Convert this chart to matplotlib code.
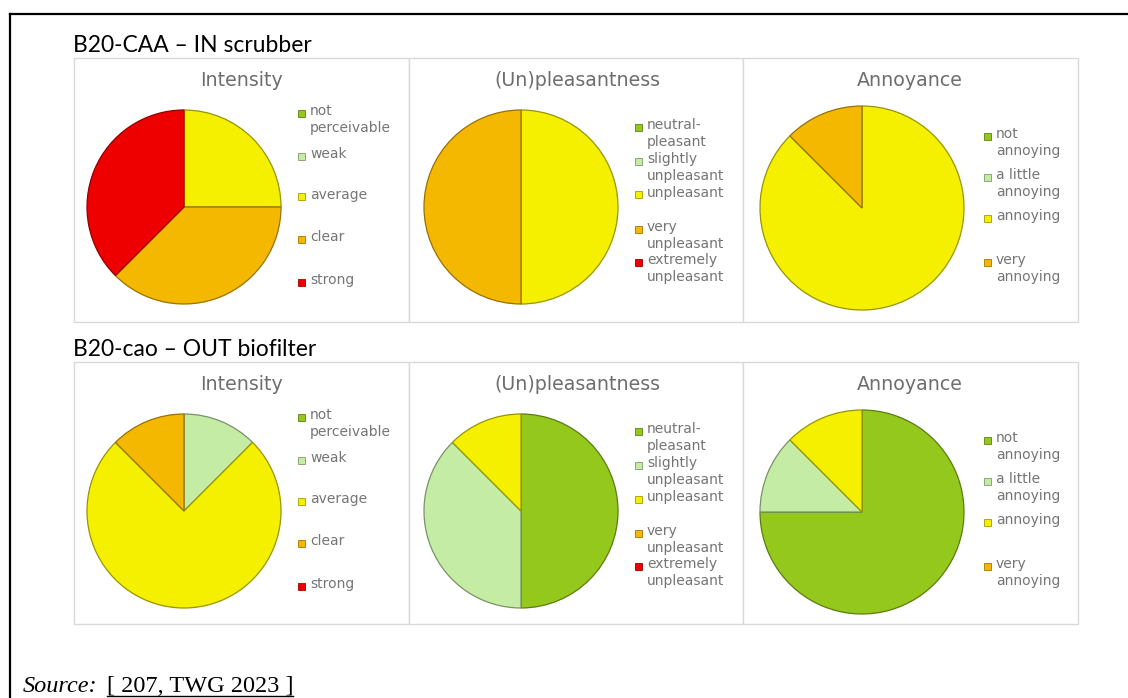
import matplotlib as mpl
mpl.use('Agg')
import matplotlib.pyplot as plt
from matplotlib.patches import Rectangle
from matplotlib.lines import Line2D
import matplotlib.colors as mcolors

W, H = 1128, 698

# data: panel counts (8 panel members), colours per category
intensity_labels = ["not\nperceivable", "weak", "average", "clear", "strong"]
pleasant_labels = ["neutral-\npleasant", "slightly\nunpleasant", "unpleasant",
                   "very\nunpleasant", "extremely\nunpleasant"]
annoy_labels = ["not\nannoying", "a little\nannoying", "annoying", "very\nannoying"]

in_intensity = [0, 0, 2, 3, 3]
in_pleasant = [0, 0, 4, 4, 0]
in_annoy = [0, 0, 7, 1]

out_intensity = [0, 1, 6, 1, 0]
out_pleasant = [4, 3, 1, 0, 0]
out_annoy = [6, 1, 1, 0]

section_titles = ["B20-CAA \u2013 IN scrubber", "B20-cao \u2013 OUT biofilter"]
chart_titles = ["Intensity", "(Un)pleasantness", "Annoyance"]

green = "#94c81c"
lightgreen = "#c4eca4"
yellow = "#f4f000"
orange = "#f5b800"
red = "#ee0000"
five_colors = [green, lightgreen, yellow, orange, red]
four_colors = [green, lightgreen, yellow, orange]

TXT = "#757575"


def fx(x):
    return x / W


def fy(y):
    return 1 - y / H


def darker(c, f=0.6):
    r, g, b = mcolors.to_rgb(c)
    return (r * f, g * f, b * f)


fig = plt.figure(figsize=(W / 100, H / 100), dpi=100)

# outer border (top and left)
fig.add_artist(Line2D([fx(10), fx(10)], [fy(14), fy(698)], color="black", lw=1.6))
fig.add_artist(Line2D([fx(10), fx(1128)], [fy(14), fy(14)], color="black", lw=1.6))


def pie_at(cx, cy, r, values, colors):
    pad = 3
    s = r + pad
    ax = fig.add_axes([fx(cx - s), fy(cy + s), 2 * s / W, 2 * s / H])
    # skip empty categories so they leave no hairline
    vals = [v for v in values if v > 0]
    cols = [c for v, c in zip(values, colors) if v > 0]
    wedges, _ = ax.pie(vals, colors=cols, startangle=90, counterclock=False,
                       radius=1.0)
    for w, c in zip(wedges, cols):
        w.set_edgecolor(darker(c, 0.62))
        w.set_linewidth(0.9)
    lim = s / r
    ax.set_xlim(-lim, lim)
    ax.set_ylim(-lim, lim)
    ax.set_aspect('equal')
    ax.axis('off')


def legend_at(x, ys, labels, colors):
    for y, lab, c in zip(ys, labels, colors):
        fig.add_artist(Rectangle((fx(x - 4), fy(y + 3.5)), 7 / W, 7 / H,
                                 facecolor=c, edgecolor=darker(c, 0.65), lw=0.6,
                                 transform=fig.transFigure))
        fig.text(fx(x + 8), fy(y - 9), lab, fontsize=10, color=TXT,
                 family="DejaVu Sans", va="top", ha="left", linespacing=1.28)


boxes_x = [74, 409, 743, 1078]
rows = [
    dict(top=58, bottom=322, data=[in_intensity, in_pleasant, in_annoy]),
    dict(top=362, bottom=624, data=[out_intensity, out_pleasant, out_annoy]),
]

pie_cx = [184, 521, 862]
pie_r = [97, 97, 102]
title_cx = [242, 577, 910]
leg_x = [302, 639, 988]
leg_y = [
    [113, 156, 197, 239, 282],
    [127, 161, 195, 229, 262],
    [136, 177, 218, 262],
]
all_labels = [intensity_labels, pleasant_labels, annoy_labels]
all_colors = [five_colors, five_colors, four_colors]

for i, row in enumerate(rows):
    off = row["top"] - 58
    # section title
    fig.text(fx(73), fy(row["top"] - 6), section_titles[i], fontsize=16.5,
             family="Lato", color="black", ha="left", va="baseline")
    # panel frames
    for j in range(3):
        x0, x1 = boxes_x[j], boxes_x[j + 1]
        fig.add_artist(Rectangle((fx(x0), fy(row["bottom"])), (x1 - x0) / W,
                                 (row["bottom"] - row["top"]) / H,
                                 facecolor="white", edgecolor="#d9d9d9", lw=1.0,
                                 transform=fig.transFigure, zorder=0))
    for j in range(3):
        fig.text(fx(title_cx[j]), fy(80 + off), chart_titles[j], fontsize=13.7,
                 family="DejaVu Sans", color="#6e6e6e", ha="center", va="center")
        cy = 207 + off + (1 if j == 2 else 0)
        pie_at(pie_cx[j], cy, pie_r[j], row["data"][j], all_colors[j])
        legend_at(leg_x[j], [y + off for y in leg_y[j]], all_labels[j], all_colors[j])

# source line
s1 = fig.text(fx(23), fy(692), "Source:", fontsize=17.5, family="Liberation Serif",
              style="italic", ha="left", va="baseline")
fig.canvas.draw()
b1 = s1.get_window_extent()
src = fig.text((b1.x1 + 9) / W, fy(692), "[ 207, TWG 2023 ]", fontsize=17.5,
               family="Liberation Serif", ha="left", va="baseline")
fig.canvas.draw()
bb = src.get_window_extent()
fig.add_artist(Line2D([bb.x0 / W, bb.x1 / W], [fy(696), fy(696)], color="black", lw=1.0))

fig.savefig("out.png", dpi=100)
